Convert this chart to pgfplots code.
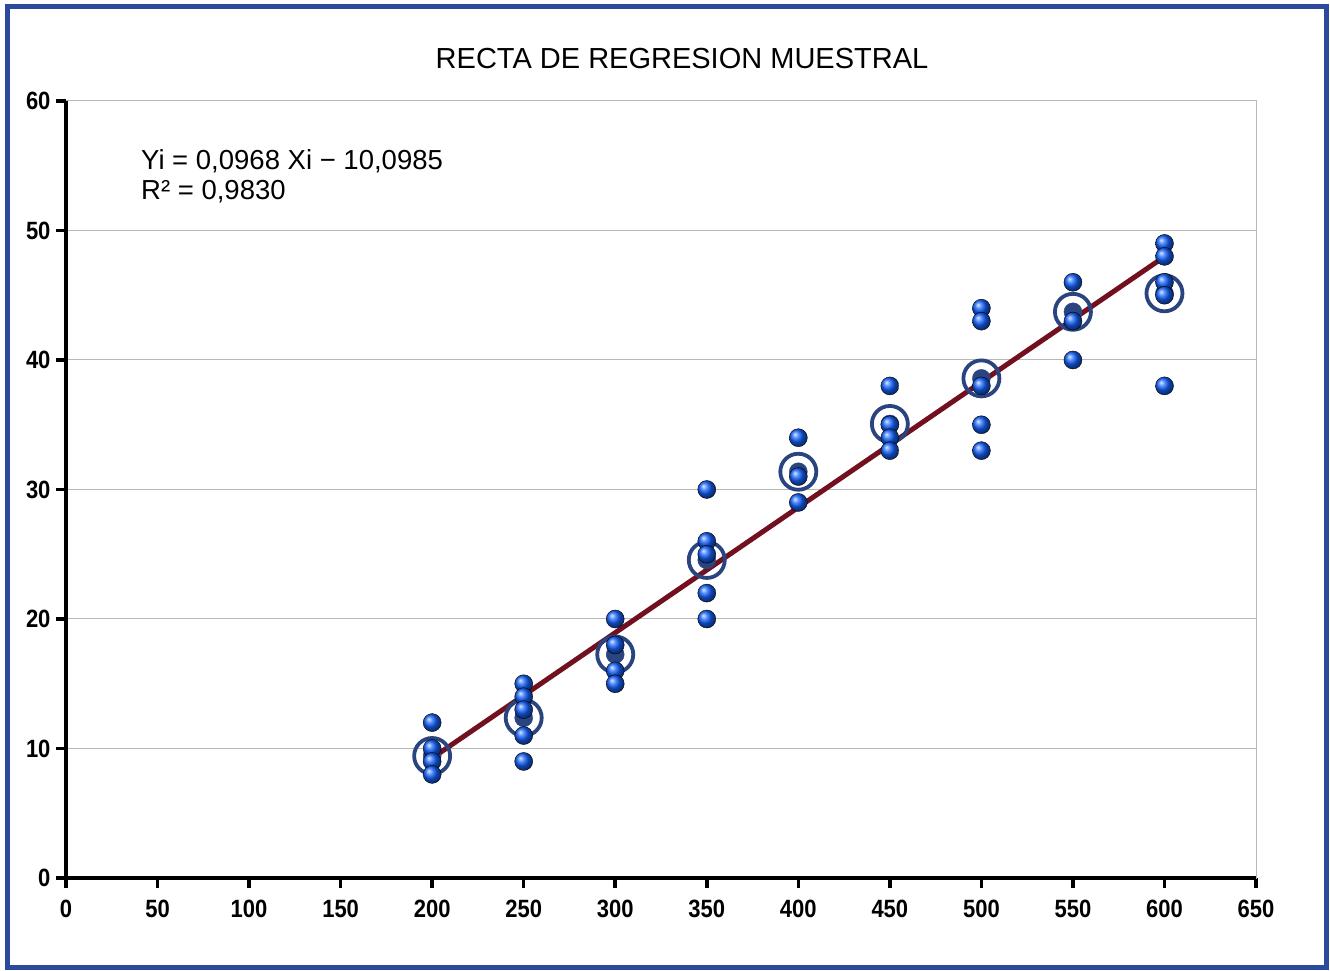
\documentclass[border=0pt]{standalone}
\usepackage{fontspec}
\setmainfont{Liberation Sans}
\newfontfamily\tickfont[FakeStretch=0.88]{Liberation Sans}
\usepackage{pgfplots}
\pgfplotsset{compat=1.18}
\definecolor{frameblue}{HTML}{2B4A9E}
\definecolor{ringblue}{HTML}{2A4480}
\definecolor{linered}{HTML}{72101F}
\definecolor{ballblue}{HTML}{1462FF}
\definecolor{gridgray}{HTML}{B8B8B8}
\begin{document}
\begin{tikzpicture}[x=1bp,y=1bp]
\useasboundingbox (0,0) rectangle (1330,970);
\fill[white] (0,0) rectangle (1330,970);
\draw[frameblue, line width=5bp] (7.5,2.5) rectangle (1326.5,963.5);
\begin{axis}[
  at={(66bp,92bp)}, anchor=south west, scale only axis,
  width=1190bp, height=777bp,
  xmin=0, xmax=650, ymin=0, ymax=60,
  xtick={0,50,...,650}, ytick={0,10,...,60},
  ymajorgrids, grid style={gridgray, line width=1bp},
  axis line style={gridgray, line width=1bp},
  tick align=outside, xtick pos=left, ytick pos=left,
  major tick length=10bp, tick style={black, line width=3.5bp},
  ticklabel style={font={\tickfont\fontsize{25bp}{28bp}\bfseries\selectfont}},
  xticklabel style={yshift=-9bp},
  yticklabel style={xshift=-2bp},
  /pgf/number format/assume math mode=true,
  clip=false,
]
\addplot[only marks, mark=*, mark size=9bp, mark options={fill=ringblue, draw=ringblue}] coordinates {
 (200,9.42) (250,12.37) (300,17.26) (350,24.56) (400,31.37) (450,35.06) (500,38.58) (550,43.72) (600,45.15)};
\addplot[only marks, mark=o, mark size=18bp, mark options={draw=ringblue, line width=3.8bp}] coordinates {
 (200,9.42) (250,12.37) (300,17.26) (350,24.56) (400,31.37) (450,35.06) (500,38.58) (550,43.72) (600,45.15)};
\addplot[only marks, mark=ball, mark size=9bp, mark options={ball color=ballblue}] coordinates {
 (200,12) (200,10) (200,9) (200,8)
 (250,15) (250,14) (250,13) (250,11) (250,9)
 (300,20) (300,18) (300,16) (300,15)
 (350,30) (350,26) (350,25) (350,22) (350,20)
 (400,34) (400,31) (400,29)
 (450,38) (450,35) (450,34) (450,33)
 (500,44) (500,43) (500,38) (500,35) (500,33)
 (550,46) (550,43) (550,40)
 (600,49) (600,48) (600,46) (600,45) (600,38)};
\addplot[linered, line width=5bp, no marks] coordinates {(200,9.2615) (600,47.9815)};
\draw[black, line width=3.5bp] (rel axis cs:0,1) -- (rel axis cs:0,0) -- (rel axis cs:1,0);
\end{axis}
\node[anchor=base, inner sep=0, font={\fontsize{29bp}{32bp}\selectfont}] at (682,901) {RECTA DE REGRESION MUESTRAL};
\node[anchor=base west, inner sep=0, font={\fontsize{27.5bp}{30bp}\selectfont}] at (141,800) {Yi = 0,0968 Xi − 10,0985};
\node[anchor=base west, inner sep=0, font={\fontsize{27.5bp}{30bp}\selectfont}] at (141,770) {R² = 0,9830};
\end{tikzpicture}
\end{document}
